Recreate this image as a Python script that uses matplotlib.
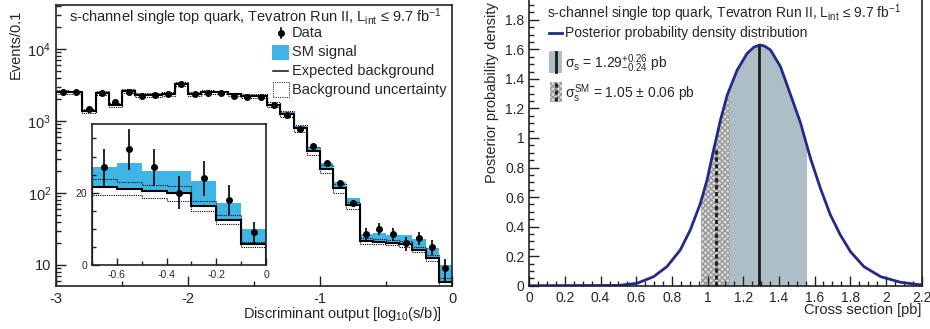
import numpy as np
import matplotlib.pyplot as plt
from matplotlib.patches import Rectangle
from matplotlib.lines import Line2D
from matplotlib.ticker import MultipleLocator, FixedLocator, LogLocator, NullFormatter, FuncFormatter

plt.rcParams['font.family'] = ['Liberation Sans', 'DejaVu Sans']
plt.rcParams['mathtext.fontset'] = 'custom'
plt.rcParams['mathtext.rm'] = 'Liberation Sans'
plt.rcParams['mathtext.it'] = 'Liberation Sans'
plt.rcParams['mathtext.bf'] = 'Liberation Sans:bold'
plt.rcParams['axes.unicode_minus'] = False

# ---- left panel: discriminant output, 30 bins of 0.1 from -3 to 0
bin_edges = np.linspace(-3.0, 0.0, 31)
background = [2560, 2500, 1370, 2480, 1680, 2650, 2300, 2320, 2380, 3240,
              2400, 2520, 2500, 2350, 2250, 2240, 1680, 1260, 790, 383,
              218, 116, 68, 21.6, 21.1, 20.4, 19.8, 16.3, 12.5, 5.8]
signal = [5, 5, 4, 6, 5, 8, 8, 9, 10, 14,
          12, 30, 35, 35, 40, 45, 55, 60, 55, 48,
          40, 28, 16, 5.5, 7.0, 5.7, 6.1, 6.9, 4.6, 4.2]
bkg_unc = [0.06, 0.06, 0.06, 0.06, 0.06, 0.06, 0.06, 0.06, 0.06, 0.06,
           0.06, 0.06, 0.06, 0.06, 0.07, 0.07, 0.08, 0.09, 0.10, 0.12,
           0.12, 0.14, 0.11, 0.10, 0.085, 0.085, 0.10, 0.08, 0.10, 0.12]
data = [2500, 2500, 1480, 2420, 1820, 2560, 2250, 2300, 2400, 3230,
        2350, 2450, 2450, 2250, 2180, 2150, 1650, 1230, 780, 450,
        258, 136, 72, 27, 32, 27, 20, 24, 18, 9]
data_err = [50, 50, 38, 49, 43, 51, 47, 48, 49, 57,
            48, 49, 49, 47, 47, 46, 41, 35, 28, 21,
            16, 11.7, 8.5, 5.2, 5.7, 5.2, 4.5, 4.9, 4.2, 3.0]
log_ticks = [10, 100, 1000, 10000]
log_labels = ['10', '$10^{2}$', '$10^{3}$', '$10^{4}$']

# ---- right panel: posterior density of the s-channel cross section
post_x = [0.0, 0.5, 0.604, 0.697, 0.772, 0.847, 0.903, 0.96, 0.997, 1.034,
          1.072, 1.110, 1.166, 1.222, 1.26, 1.293, 1.32, 1.353, 1.409, 1.466,
          1.522, 1.577, 1.633, 1.689, 1.745, 1.802, 1.877, 1.971, 2.083, 2.2]
post_y = [0.0, 0.002, 0.016, 0.061, 0.129, 0.242, 0.377, 0.558, 0.716, 0.92,
          1.12, 1.29, 1.46, 1.573, 1.615, 1.63, 1.622, 1.596, 1.483, 1.291,
          1.10, 0.863, 0.659, 0.479, 0.343, 0.230, 0.129, 0.061, 0.023, 0.005]
meas = 1.29
meas_lo, meas_hi = 1.05, 1.55
meas_top = 1.63
sm = 1.05
sm_lo, sm_hi = 0.965, 1.128
sm_top = 0.94

W, H = 930, 329
blue = '#3fb5e6'
greyblue = '#adbec7'
navy = '#232a88'
txt = '#262626'
title = r's-channel single top quark, Tevatron Run II, L$_{\mathrm{int}}$ ≤ 9.7 fb$^{-1}$'


def fx(x):
    return x / W


def fy(y):
    return 1 - y / H


def box(x0, y0, x1, y1):
    return [fx(x0), fy(y1), (x1 - x0) / W, (y1 - y0) / H]


def style(ax):
    for s in ax.spines.values():
        s.set_linewidth(1.2)
        s.set_color('#222222')
    ax.tick_params(which='both', direction='in', top=False, right=False,
                   colors='#222222', labelcolor=txt, width=1.0)


fig = plt.figure(figsize=(W / 100, H / 100), dpi=100)

bkg = np.array(background)
tot = bkg + np.array(signal)
unc = np.array(bkg_unc)
centers = 0.5 * (bin_edges[1:] + bin_edges[:-1])

# main histogram
ax = fig.add_axes(box(56, 5, 452, 286))
ax.stairs(tot, bin_edges, baseline=bkg, fill=True, color=blue, lw=0)
ax.stairs(bkg * (1 + unc), bin_edges, color='k', lw=0.8, ls=(0, (1, 1)))
ax.stairs(bkg * (1 - unc), bin_edges, color='k', lw=0.8, ls=(0, (1, 1)))
ax.stairs(bkg, bin_edges, color='k', lw=1.5)
ax.errorbar(centers, data, yerr=data_err, fmt='o', ms=4, color='k',
            elinewidth=1.2, capsize=0)
ax.set_xlim(-3, 0)
ax.set_yscale('log')
ax.set_ylim(5.1, 4.1e4)
style(ax)
ax.xaxis.set_major_locator(MultipleLocator(1))
ax.xaxis.set_minor_locator(MultipleLocator(0.5))
ax.yaxis.set_major_locator(FixedLocator(log_ticks))
ax.set_yticklabels(log_labels)
ax.yaxis.set_minor_locator(LogLocator(subs=np.arange(2, 10)))
ax.yaxis.set_minor_formatter(NullFormatter())
ax.tick_params(axis='both', which='major', length=7, labelsize=10.5)
ax.tick_params(axis='both', which='minor', length=3.5)
ax.tick_params(axis='x', pad=4)

# inset, last seven bins on a linear scale
n = 7
axi = fig.add_axes(box(92, 124, 266, 265))
axi.stairs(tot[-n:], bin_edges[-n - 1:], baseline=bkg[-n:], fill=True, color=blue, lw=0)
axi.stairs((bkg * (1 + unc))[-n:], bin_edges[-n - 1:], color='k', lw=0.8, ls=(0, (1, 1)))
axi.stairs((bkg * (1 - unc))[-n:], bin_edges[-n - 1:], color='k', lw=0.8, ls=(0, (1, 1)))
axi.stairs(bkg[-n:], bin_edges[-n - 1:], color='k', lw=1.5)
axi.errorbar(centers[-n:], data[-n:], yerr=data_err[-n:], fmt='o', ms=4,
             color='k', elinewidth=1.2, capsize=0)
axi.set_xlim(-0.7, 0)
axi.set_ylim(0, 39)
style(axi)
axi.xaxis.set_major_locator(FixedLocator([-0.6, -0.4, -0.2, 0]))
axi.xaxis.set_minor_locator(MultipleLocator(0.1))
axi.yaxis.set_major_locator(MultipleLocator(20))
axi.yaxis.set_minor_locator(MultipleLocator(5))
axi.xaxis.set_major_formatter(FuncFormatter(lambda v, p: '%g' % round(v, 2)))
axi.tick_params(which='major', length=5, labelsize=7.5)
axi.tick_params(which='minor', length=3)

# left legend (drawn by hand, ROOT style)
fig.add_artist(Line2D([fx(281), fx(281)], [fy(28), fy(38)], color='k', lw=1.2,
                      transform=fig.transFigure))
fig.add_artist(Line2D([fx(281)], [fy(33)], marker='o', ms=4, color='k',
                      transform=fig.transFigure))
fig.add_artist(Rectangle((fx(272), fy(60)), 17 / W, 15 / H, color=blue, lw=0,
                         transform=fig.transFigure))
fig.add_artist(Line2D([fx(273), fx(288)], [fy(71), fy(71)], color='#222222', lw=1.2,
                      transform=fig.transFigure))
fig.add_artist(Rectangle((fx(273), fy(97)), 16 / W, 15 / H, facecolor='white',
                         edgecolor='#333333', lw=0.8, ls=(0, (1, 1)),
                         transform=fig.transFigure))
for y, lab in zip([33, 52, 71, 90],
                  ['Data', 'SM signal', 'Expected background', 'Background uncertainty']):
    fig.text(fx(292), fy(y), lab, fontsize=10.5, va='center', color=txt)

fig.text(fx(69), fy(17), title, fontsize=10.5, va='center', color=txt)
fig.text(fx(16), fy(10), 'Events/0.1', rotation=90, ha='center', va='top',
         fontsize=10.5, color=txt)
fig.text(fx(442), fy(314), r'Discriminant output [log$_{10}$(s/b)]', ha='right',
         va='center', fontsize=10.5, color=txt)

# right panel (top edge lies just above the canvas, as in the original)
ax2 = fig.add_axes(box(529.3, 285.7 - 1.99 * 147.7, 921.5, 285.7))
band = ax2.fill_between(post_x, post_y, color=greyblue, lw=0)
band.set_clip_path(Rectangle((meas_lo, 0), meas_hi - meas_lo, 3, transform=ax2.transData))
smband = ax2.fill_between(post_x, post_y, facecolor='#dcdcdc', edgecolor='#9a9a9a',
                          hatch='xxxxxx', lw=0)
smband.set_clip_path(Rectangle((sm_lo, 0), sm_hi - sm_lo, 3, transform=ax2.transData))
ax2.vlines(meas, 0, meas_top, color='#1a1a1a', lw=2)
ax2.vlines(sm, 0, sm_top, color='#1a1a1a', lw=2, linestyles=(0, (1.5, 1)))
ax2.plot(post_x, post_y, color=navy, lw=2)
ax2.set_xlim(0, 2.2)
ax2.set_ylim(0, 1.99)
style(ax2)
ax2.xaxis.set_major_locator(MultipleLocator(0.2))
ax2.xaxis.set_minor_locator(MultipleLocator(0.05))
ax2.yaxis.set_major_locator(MultipleLocator(0.2))
ax2.yaxis.set_minor_locator(MultipleLocator(0.05))
fmt = FuncFormatter(lambda v, p: '%g' % round(v, 2))
ax2.xaxis.set_major_formatter(fmt)
ax2.yaxis.set_major_formatter(fmt)
ax2.tick_params(which='major', length=7, labelsize=10)
ax2.tick_params(which='minor', length=3.5)

fig.text(fx(547), fy(13), title, fontsize=10, va='center', color=txt)
fig.add_artist(Line2D([fx(549), fx(562)], [fy(33), fy(33)], color=navy, lw=2,
                      transform=fig.transFigure))
fig.text(fx(565), fy(33), 'Posterior probability density distribution', fontsize=10,
         va='center', color=txt)
fig.add_artist(Rectangle((fx(549), fy(73)), 13 / W, 22 / H, color=greyblue, lw=0,
                         transform=fig.transFigure))
fig.add_artist(Line2D([fx(556), fx(556)], [fy(52), fy(72)], color='#1a1a1a', lw=2,
                      transform=fig.transFigure))
fig.text(fx(565), fy(64), r'$\sigma_{\mathrm{s}}$ = 1.29$^{+0.26}_{-0.24}$ pb', fontsize=10,
         va='center', color=txt)
fig.add_artist(Rectangle((fx(550), fy(102)), 12 / W, 20 / H, facecolor='#dcdcdc',
                         edgecolor='#9a9a9a', hatch='xxxxxx', lw=0,
                         transform=fig.transFigure))
fig.add_artist(Line2D([fx(556), fx(556)], [fy(83), fy(101)], color='#1a1a1a', lw=2,
                      ls=(0, (1.5, 1)), transform=fig.transFigure))
fig.text(fx(565), fy(94), r'$\sigma_{\mathrm{s}}^{\mathrm{SM}}$ = 1.05 ± 0.06 pb', fontsize=10,
         va='center', color=txt)

fig.text(fx(492), fy(2), 'Posterior probability density', rotation=90, ha='center',
         va='top', fontsize=10.5, color=txt)
fig.text(fx(921), fy(310), 'Cross section [pb]', ha='right', va='center',
         fontsize=10.5, color=txt)

fig.savefig('out.png', dpi=100)
